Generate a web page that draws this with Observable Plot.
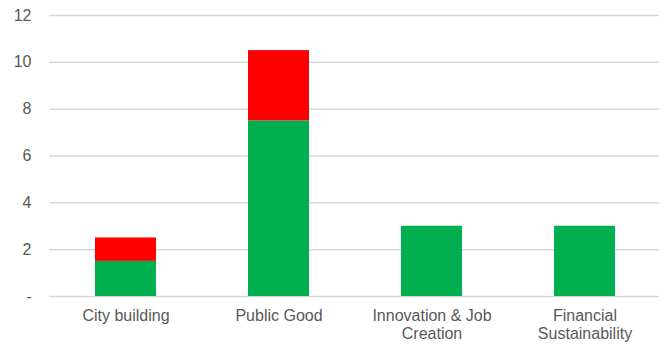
<!DOCTYPE html>
<html>
<head>
<meta charset="utf-8">
<script src="https://cdn.jsdelivr.net/npm/d3@7"></script>
<script src="https://cdn.jsdelivr.net/npm/@observablehq/plot@0.6"></script>
<style>
  html, body { margin: 0; padding: 0; background: #fff; }
  #chart svg { display: block; }
</style>
</head>
<body>
<div id="chart"></div>
<script>
const categories = ["City building", "Public Good", "Innovation & Job Creation", "Financial Sustainability"];
const xTickLabels = ["City building", "Public Good", "Innovation & Job\nCreation", "Financial\nSustainability"];
const seriesNames = ["Series 1", "Series 2"];
const seriesColors = ["#00B050", "#FF0000"];
const series1Values = [1.5, 7.5, 3, 3];
const series2Values = [1, 3, 0, 0];
const yTicks = [0, 2, 4, 6, 8, 10, 12];
const yTickLabels = ["-", "2", "4", "6", "8", "10", "12"];

const rows = [];
categories.forEach((c, i) => {
  if (series1Values[i]) rows.push({category: c, series: seriesNames[0], value: series1Values[i]});
  if (series2Values[i]) rows.push({category: c, series: seriesNames[1], value: series2Values[i]});
});

const chart = Plot.plot({
  width: 659,
  height: 345,
  marginLeft: 49,
  marginRight: 0,
  marginTop: 15,
  marginBottom: 49,
  style: {fontFamily: "'Liberation Sans', Arial, sans-serif", fontSize: "16px", color: "#595959", background: "#fff"},
  x: {domain: categories, range: [49, 662], paddingInner: 0.6, paddingOuter: 0.3, label: null},
  y: {domain: [0, 12], label: null},
  color: {domain: seriesNames, range: seriesColors},
  marks: [
    Plot.ruleY(yTicks, {stroke: "#d9d9d9", strokeWidth: 1.5}),
    Plot.barY(rows, {x: "category", y: "value", fill: "series", order: seriesNames}),
    Plot.axisY({ticks: yTicks, tickSize: 0, tickPadding: 18, tickFormat: (d) => yTickLabels[yTicks.indexOf(d)], fill: "#595959", fontSize: 16, label: null}),
    Plot.axisX({tickSize: 0, tickPadding: 11, tickFormat: d => xTickLabels[categories.indexOf(d)], fill: "#595959", fontSize: 16, lineHeight: 1.15, label: null})
  ]
});
document.getElementById("chart").appendChild(chart);
</script>
</body>
</html>
